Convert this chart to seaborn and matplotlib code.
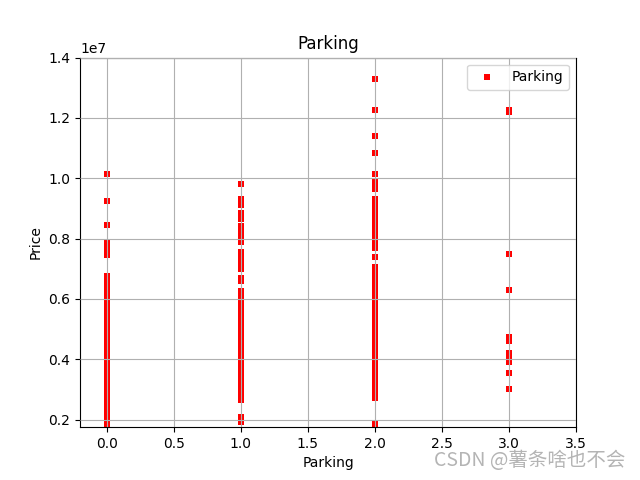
import matplotlib
matplotlib.use("Agg")
import matplotlib.pyplot as plt
import seaborn as sns
import pandas as pd

# Price values (in units of 1e6) read per parking level
price_p0 = [10.15, 9.25, 8.45, 7.9, 7.7, 7.55, 7.45,
            6.75, 6.68, 6.6, 6.53, 6.46, 6.39, 6.32, 6.25, 6.18, 6.11, 6.04, 5.97,
            5.9, 5.83, 5.76, 5.69, 5.62, 5.55, 5.48, 5.41, 5.34, 5.27, 5.2, 5.13,
            5.06, 4.99, 4.92, 4.85, 4.78, 4.71, 4.64, 4.57, 4.5, 4.43, 4.36, 4.29,
            4.22, 4.15, 4.08, 4.01, 3.94, 3.87, 3.8, 3.73, 3.66, 3.59, 3.52, 3.45,
            3.38, 3.31, 3.24, 3.17, 3.1, 3.03, 2.96, 2.89, 2.82, 2.75, 2.68, 2.61,
            2.54, 2.47, 2.4, 2.33, 2.26, 2.19, 2.12, 2.05, 1.98, 1.91, 1.84, 1.77]
price_p1 = [9.82, 9.33, 9.13, 8.86, 8.66, 8.43, 8.35, 8.27, 8.19, 8.1, 7.9,
            7.55, 7.48, 7.41, 7.34, 7.27, 7.2, 7.13, 7.06, 6.98, 6.7, 6.58,
            6.28, 6.21, 6.14, 6.07, 6.0, 5.93, 5.86, 5.79, 5.72, 5.65, 5.58, 5.51,
            5.44, 5.37, 5.3, 5.23, 5.16, 5.09, 5.02, 4.95, 4.88, 4.81, 4.74, 4.67,
            4.6, 4.53, 4.46, 4.39, 4.32, 4.25, 4.18, 4.11, 4.04, 3.97, 3.9, 3.83,
            3.76, 3.62, 3.55, 3.48, 3.41, 3.34, 3.27, 3.2, 3.13, 3.06, 2.99, 2.92,
            2.85, 2.78, 2.71, 2.64, 2.1, 1.92]
price_p2 = [13.3, 12.25, 11.41, 10.85, 10.15, 9.9, 9.8, 9.7, 9.63,
            9.3, 9.2, 9.1, 9.0, 8.9, 8.8, 8.7, 8.6, 8.5, 8.4, 8.3, 8.13, 7.98, 7.9,
            7.7, 7.38, 7.07, 7.0, 6.93, 6.86, 6.79, 6.72, 6.65, 6.58, 6.51, 6.44,
            6.37, 6.3, 6.23, 6.16, 6.09, 6.02, 5.95, 5.88, 5.81, 5.74, 5.67, 5.6,
            5.53, 5.46, 5.39, 5.32, 5.25, 5.18, 5.11, 5.04, 4.97, 4.9, 4.83, 4.76,
            4.69, 4.62, 4.55, 4.48, 4.41, 4.34, 4.27, 4.2, 4.13, 4.06, 3.99, 3.92,
            3.85, 3.78, 3.71, 3.64, 3.57, 3.5, 3.43, 3.36, 3.29, 3.22, 3.15, 3.08,
            3.01, 2.94, 2.87, 2.8, 2.73, 1.87]
price_p3 = [12.25, 12.21, 7.5, 6.3, 4.75, 4.6, 4.2, 4.05, 3.92, 3.53, 3.03]
parking_levels = [0, 1, 2, 3]

rows = []
for lvl, vals in zip(parking_levels, [price_p0, price_p1, price_p2, price_p3]):
    for v in vals:
        rows.append({"parking": lvl, "price": v * 1e6})
df = pd.DataFrame(rows)

fig, ax = plt.subplots(figsize=(6.4, 4.8), dpi=100)
sns.scatterplot(data=df, x="parking", y="price", color="red", marker="s",
                s=13, linewidth=0, label="Parking", ax=ax)
ax.set_xlim(-0.2, 3.5)
ax.set_ylim(1.75e6, 1.4e7)
ax.set_title("Parking")
ax.set_xlabel("Parking")
ax.set_ylabel("Price")
ax.grid(True, zorder=2.5)
ax.set_axisbelow(False)
ax.legend(loc="upper right")
fig.text(0.977, 0.018, "CSDN @薯条啥也不会", ha="right", va="bottom",
         fontsize=14, color="#b4b4b4", family=["Noto Sans CJK SC", "DejaVu Sans"])
fig.savefig("out.png", dpi=100)
